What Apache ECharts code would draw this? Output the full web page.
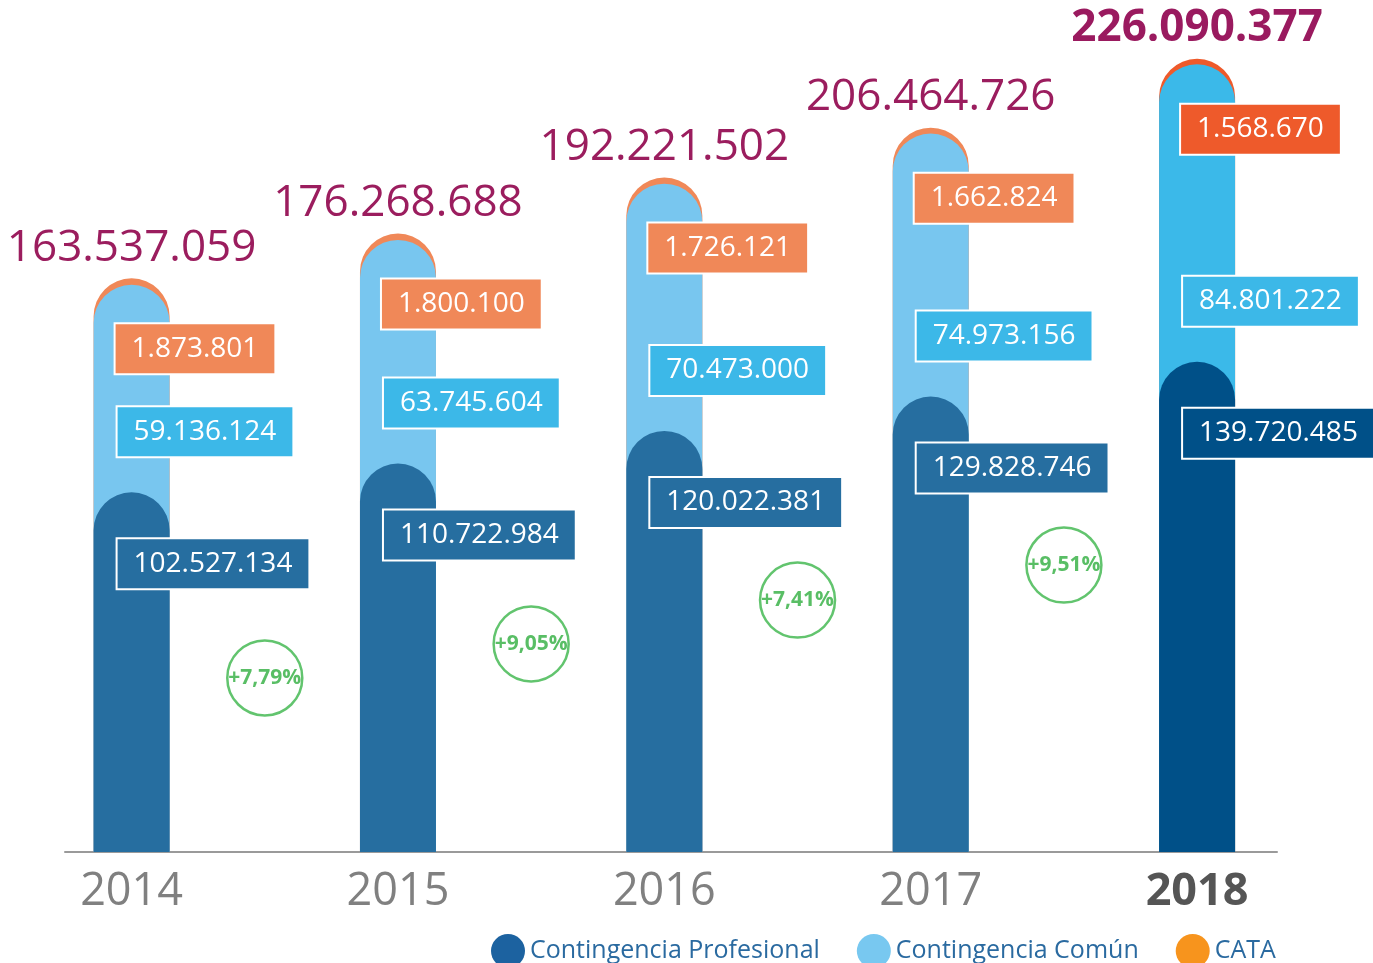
<!DOCTYPE html>
<html>
<head>
<meta charset="utf-8">
<script src="https://cdn.jsdelivr.net/npm/echarts@6/dist/echarts.min.js"></script>
<style>
html,body{margin:0;padding:0;background:#fff;}
#chart{width:1373px;height:963px;}
</style>
</head>
<body>
<div id="chart"></div>
<script>
const years = ['2014', '2015', '2016', '2017', '2018'];
const profesional = [102527134, 110722984, 120022381, 129828746, 139720485];
const comun = [59136124, 63745604, 70473000, 74973156, 84801222];
const cata = [1873801, 1800100, 1726121, 1662824, 1568670];
const totals = [163537059, 176268688, 192221502, 206464726, 226090377];
const growth = ['+7,79%', '+9,05%', '+7,41%', '+9,51%'];
// vertical placement (in axis units) of the growth badges
const growthBadgeLevel = [49.6e6, 59.3e6, 71.8e6, 81.8e6];

const HL = 4; // highlighted year (2018)
const FONT = "'Open Sans', 'Noto Sans', sans-serif";
const fmt = n => String(n).replace(/\B(?=(\d{3})+(?!\d))/g, '.');

const col = {
  dark: '#266ea0', darkHL: '#005088',
  light: '#78c6ef', lightHL: '#3bb9e9',
  orange: '#f08858', orangeHL: '#ee5a2b',
  lightBox: '#3cb8e8'
};

const BW = 76;
const boxLabel = (bg) => ({
  show: true,
  color: '#fff',
  fontFamily: FONT,
  fontSize: 28,
  backgroundColor: bg,
  borderColor: '#fff',
  borderWidth: 2,
  padding: [0, 16, 0, 16],
  height: 49,
  lineHeight: 49,
  align: 'left',
  verticalAlign: 'top'
});

const chart = echarts.init(document.getElementById('chart'));

const series = [
  {
    name: 'CATA', type: 'bar', barWidth: BW, barGap: '-100%',
    itemStyle: { borderRadius: [BW / 2, BW / 2, 0, 0] },
    data: years.map((y, i) => ({
      value: [i, totals[i]],
      itemStyle: { color: i === HL ? col.orangeHL : col.orange },
      label: i === HL ? { fontWeight: 'bold', color: '#9a1a5f', fontSize: 44 } : {}
    })),
    label: {
      show: true, position: 'top', distance: 8,
      formatter: p => fmt(totals[p.dataIndex]),
      color: '#9b1d5e', fontSize: 44, fontFamily: FONT
    },
    z: 2
  },
  {
    name: 'Contingencia Común', type: 'bar', barWidth: BW, barGap: '-100%',
    itemStyle: { borderRadius: [BW / 2, BW / 2, 0, 0] },
    data: years.map((y, i) => ({
      value: [i, profesional[i] + comun[i]],
      itemStyle: { color: i === HL ? col.lightHL : col.light }
    })),
    z: 2
  },
  {
    // dark bar; carries the "Común" callout just above its top
    name: 'Contingencia Profesional', type: 'bar', barWidth: BW, barGap: '-100%',
    itemStyle: { borderRadius: [BW / 2, BW / 2, 0, 0] },
    data: years.map((y, i) => ({
      value: [i, profesional[i]],
      itemStyle: { color: i === HL ? col.darkHL : col.dark }
    })),
    label: Object.assign(boxLabel(col.lightBox), {
      position: [24, 0], offset: [0, -85], formatter: p => fmt(comun[p.dataIndex])
    }),
    z: 2
  },
  // transparent label carriers
  {
    name: 'lblP', type: 'bar', barWidth: BW, barGap: '-100%', silent: true,
    itemStyle: { color: 'rgba(0,0,0,0)' },
    data: years.map((y, i) => ({
      value: [i, profesional[i]],
      label: { backgroundColor: i === HL ? col.darkHL : col.dark }
    })),
    label: Object.assign(boxLabel(col.dark), {
      position: [24, 47], formatter: p => fmt(profesional[p.dataIndex])
    }),
    z: 5
  },
  {
    name: 'lblA', type: 'bar', barWidth: BW, barGap: '-100%', silent: true,
    itemStyle: { color: 'rgba(0,0,0,0)' },
    data: years.map((y, i) => ({
      value: [i, totals[i]],
      label: { backgroundColor: i === HL ? col.orangeHL : col.orange }
    })),
    label: Object.assign(boxLabel(col.orange), {
      position: [22, 46], formatter: p => fmt(cata[p.dataIndex])
    }),
    z: 5
  },
  {
    name: 'growth', type: 'scatter', symbol: 'circle', symbolSize: 75, silent: true,
    itemStyle: { color: '#fff', borderColor: '#3bb54a', borderWidth: 2.5 },
    data: growth.map((g, i) => [i + 0.5, growthBadgeLevel[i]]),
    label: {
      show: true, position: 'inside',
      formatter: p => growth[p.dataIndex],
      color: '#2fae3f', fontSize: 21, fontWeight: 'bold',
      fontFamily: FONT
    },
    z: 6
  }
];

chart.setOption({
  animation: false,
  backgroundColor: '#fff',
  grid: { left: 65, right: 96, top: 10, bottom: 111, containLabel: false, outerBoundsMode: 'none' },
  xAxis: {
    type: 'value', min: -0.25, max: 4.3,
    splitLine: { show: false },
    axisTick: { show: false },
    axisLine: { show: true, onZero: false, lineStyle: { color: '#9a9a9a', width: 2 } },
    axisLabel: {
      customValues: [0, 1, 2, 3, 4],
      margin: 18,
      formatter: v => {
        const i = Math.round(v);
        return i === HL ? '{b|' + years[i] + '}' : '{n|' + years[i] + '}';
      },
      rich: {
        n: { fontSize: 45, color: '#808080', fontFamily: FONT },
        b: { fontSize: 45, color: '#555555', fontWeight: 'bold', fontFamily: FONT }
      }
    }
  },
  yAxis: { type: 'value', min: 0, max: 240e6, show: false },
  legend: {
    data: [
      { name: 'Contingencia Profesional', itemStyle: { color: '#1c62a0' } },
      { name: 'Contingencia Común', itemStyle: { color: '#78c8f0' } },
      { name: 'CATA', itemStyle: { color: '#f7941d' } }
    ],
    icon: 'circle', itemWidth: 34, itemHeight: 34, itemGap: 37,
    left: 486, top: 929,
    textStyle: { fontSize: 25, color: '#2a6aa0', fontFamily: FONT },
    selectedMode: false
  },
  series: series
});
</script>
</body>
</html>
